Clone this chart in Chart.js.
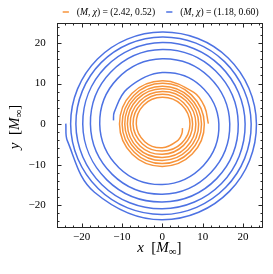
<!DOCTYPE html>
<html><head><meta charset="utf-8">
<script src="https://cdn.jsdelivr.net/npm/chart.js@4/dist/chart.umd.min.js"></script>
<style>html,body{margin:0;padding:0;background:#fff}#wrap{position:relative;width:273px;height:274px}</style>
</head><body><div id="wrap"><canvas id="c" width="273" height="274"></canvas></div>
<script>
// ---- data ----
const seriesLabels = ['(M, χ) = (2.42, 0.52)', '(M, χ) = (1.18, 0.60)'];
const seriesColors = ['#f7943c', '#4d72e3'];

// orange track (outer start at the right, winding counter-clockwise inwards)
const orangeX = [11.4, 10.45, 7.8, 0, -7.55, -10.6, -7.45, 0, 7.4, 10.4, 7.2, 0, -7.05, -9.95, -6.95, 0, 6.85, 9.7, 6.7, 0, -6.6, -9.3, -6.45, 0, 6.35, 9.0, 6.25, 0, -6.15, -8.65, -6.0, 0, 5.85, 8.3, 5.8, 0, -5.65, -7.95, -5.45, 0, 5.25, 7.5, 5.25, 0, -5.15, -7.25, -4.9, 0, 4.75, 6.85, 4.75, 0, -4.65, -6.45, -4.35, 0, 3.95, 4.85, 5.0];
const orangeY = [0.1, 4.3, 7.8, 10.7, 7.55, 0, -7.45, -10.45, -7.4, 0, 7.2, 10.05, 7.05, 0, -6.95, -9.75, -6.85, 0, 6.7, 9.35, 6.6, 0, -6.45, -9.0, -6.35, 0, 6.25, 8.7, 6.15, 0, -6.0, -8.25, -5.85, 0, 5.8, 8.05, 5.65, 0, -5.45, -7.45, -5.25, 0, 5.25, 7.35, 5.15, 0, -4.9, -6.65, -4.75, 0, 4.75, 6.6, 4.65, 0, -4.35, -5.85, -3.95, -2.35, -1.0];

// blue track (outer start at the left, winding counter-clockwise inwards)
const blueX = [-23.9, -23.5, -16.8, 0, 16.6, 23.3, 16.3, 0, -16.05, -22.7, -15.9, 0, 15.65, 22.0, 15.4, 0, -15.15, -21.4, -14.95, 0, 14.65, 20.5, 14.35, 0, -14.05, -19.7, -13.75, 0, 13.45, 18.8, 13.15, 0, -12.8, -17.8, -12.4, 0, 12.0, 16.7, 11.6, 0, -11.15, -15.5, -10.75, 0, 10.2, 14.0, 9.45, 0, -8.7, -11.9, -12.1];
const blueY = [0.1, -4.15, -16.8, -23.6, -16.6, 0, 16.3, 22.7, 16.05, 0, -15.9, -22.3, -15.65, 0, 15.4, 21.5, 15.15, 0, -14.95, -20.9, -14.65, 0, 14.35, 20.1, 14.05, 0, -13.75, -19.2, -13.45, 0, 13.15, 18.4, 12.8, 0, -12.4, -17.3, -12.0, 0, 11.6, 16.1, 11.15, 0, -10.75, -14.9, -10.2, 0, 9.45, 12.7, 8.7, 2.95, 0.9];

const xTicks = [-20, -10, 0, 10, 20];
const yTicks = [-20, -10, 0, 10, 20];
const minorTicks = [-24, -22, -18, -16, -14, -12, -8, -6, -4, -2, 2, 4, 6, 8, 12, 14, 16, 18, 22, 24];
const xTitle = 'x  [M_∞]';
const yTitle = 'y  [M_∞]';

// ---- helpers ----
const FAM = '"Liberation Serif", "DejaVu Serif", serif';
function fmt(v){ return v < 0 ? '\u2212' + Math.abs(v) : String(v); }
function parseRich(s){
  const parts = [];
  for (let i = 0; i < s.length; i++){
    const c = s[i];
    if (c === '_'){ parts.push({t: s[i+1], sub: true}); i++; continue; }
    parts.push({t: c, it: /[A-Za-zχ]/.test(c)});
  }
  return parts;
}
function richFont(p, size){
  const sz = p.sub ? size * 0.72 : size;
  return (p.it ? 'italic ' : '') + sz + 'px ' + FAM;
}
function richWidth(ctx, parts, size){
  let w = 0;
  parts.forEach(p => { ctx.font = richFont(p, size); w += ctx.measureText(p.t).width; });
  return w;
}
function drawRich(ctx, s, x, y, size, align){
  const parts = parseRich(s);
  const w = richWidth(ctx, parts, size);
  let cx = align === 'left' ? x : x - w / 2;
  ctx.textBaseline = 'alphabetic';
  ctx.textAlign = 'left';
  parts.forEach(p => {
    ctx.font = richFont(p, size);
    ctx.fillText(p.t, cx, p.sub ? y + size * 0.2 : y);
    cx += ctx.measureText(p.t).width;
  });
  return w;
}

const frame = {
  id: 'frame',
  afterDatasetsDraw(chart){
    const {ctx, chartArea: a, scales: {x, y}} = chart;
    ctx.save();
    ctx.strokeStyle = '#262626';
    ctx.lineWidth = 1;
    const L = Math.round(a.left) + 0.5, R = Math.round(a.right) - 0.5;
    const T = Math.round(a.top) + 0.5, B = Math.round(a.bottom) - 0.5;
    ctx.strokeRect(L, T, R - L, B - T);
    ctx.beginPath();
    const tx = (v, len) => { const p = Math.round(x.getPixelForValue(v)) + 0.5; ctx.moveTo(p, B); ctx.lineTo(p, B - len); ctx.moveTo(p, T); ctx.lineTo(p, T + len); };
    const ty = (v, len) => { const p = Math.round(y.getPixelForValue(v)) + 0.5; ctx.moveTo(L, p); ctx.lineTo(L + len, p); ctx.moveTo(R, p); ctx.lineTo(R - len, p); };
    xTicks.forEach(v => tx(v, 4));
    yTicks.forEach(v => ty(v, 4));
    minorTicks.forEach(v => { tx(v, 2); ty(v, 2); });
    ctx.stroke();
    // axis titles
    ctx.fillStyle = '#000';
    drawRich(ctx, xTitle, (a.left + a.right) / 2 - 1, 251.5, 15, 'center');
    ctx.save();
    ctx.translate(18.5, (a.top + a.bottom) / 2 + 1.5);
    ctx.rotate(-Math.PI / 2);
    drawRich(ctx, yTitle, 0, 0, 15, 'center');
    ctx.restore();
    // legend
    const fs = 9.6;
    const ly = 15.2;
    const sx = [62.7, 166.2];
    seriesLabels.forEach((lab, i) => {
      ctx.strokeStyle = seriesColors[i];
      ctx.lineWidth = 1.5;
      ctx.beginPath(); ctx.moveTo(sx[i], ly - 3.2); ctx.lineTo(sx[i] + 6.2, ly - 3.2); ctx.stroke();
      ctx.fillStyle = '#000';
      drawRich(ctx, lab, sx[i] + 14, ly, fs, 'left');
    });
    ctx.restore();
  }
};

const mk = (xs, ys) => xs.map((v, i) => ({x: v, y: ys[i]}));

new Chart(document.getElementById('c'), {
  type: 'scatter',
  data: {
    datasets: [
      {label: seriesLabels[0], data: mk(orangeX, orangeY), showLine: true, borderColor: seriesColors[0], borderWidth: 1.5, pointRadius: 0, tension: 0.375, fill: false},
      {label: seriesLabels[1], data: mk(blueX, blueY), showLine: true, borderColor: seriesColors[1], borderWidth: 1.5, pointRadius: 0, tension: 0.375, fill: false}
    ]
  },
  options: {
    responsive: false, animation: false, devicePixelRatio: 1,
    layout: {padding: {top: 22.7, right: 9.7, left: 0, bottom: 0}},
    plugins: {legend: {display: false}, tooltip: {enabled: false}},
    scales: {
      x: {
        type: 'linear', min: -26, max: 25,
        afterBuildTicks: s => { s.ticks = xTicks.map(v => ({value: v})); },
        afterFit: s => { s.height = 45.7; },
        grid: {display: false, drawTicks: false}, border: {display: false},
        ticks: {autoSkip: false, maxRotation: 0, padding: 2.5, color: '#000', font: {family: FAM, size: 11}, callback: v => fmt(v)}
      },
      y: {
        type: 'linear', min: -25.7, max: 25,
        afterBuildTicks: s => { s.ticks = yTicks.map(v => ({value: v})); },
        afterFit: s => { s.width = 57.3; },
        grid: {display: false, drawTicks: false}, border: {display: false},
        ticks: {autoSkip: false, padding: 11.5, color: '#000', font: {family: FAM, size: 11}, callback: v => fmt(v)}
      }
    }
  },
  plugins: [frame]
});
</script>
</body></html>
